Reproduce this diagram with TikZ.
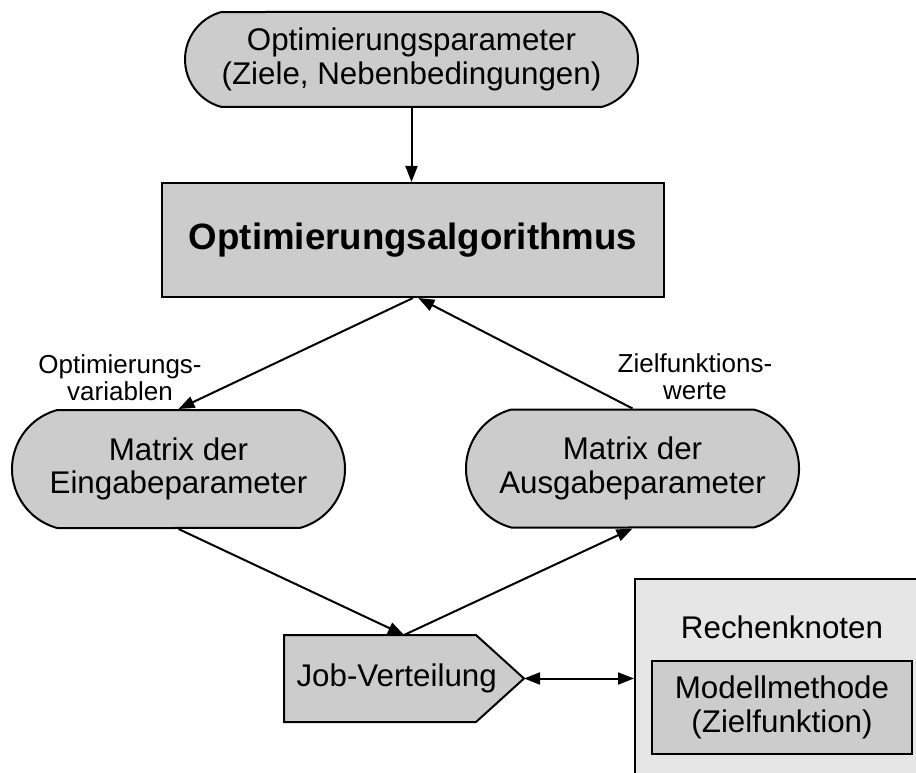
\documentclass[tikz,border=0pt]{standalone}
\usepackage{fontspec}
\setmainfont{Liberation Sans}
\usetikzlibrary{arrows.meta,shapes.misc}
\definecolor{boxgrey}{HTML}{CCCCCC}
\definecolor{nodegrey}{HTML}{E6E6E6}

\begin{document}
\begin{tikzpicture}[x=.75pt,y=-.75pt,line width=1.5pt,
  >={Triangle[length=12pt,width=9pt]},
  every node/.style={font=\fontsize{23.5}{25}\selectfont,align=center,inner sep=0pt},
  stadium/.style={rounded rectangle,rounded rectangle arc length=150,draw,fill=boxgrey},
  box/.style={rectangle,draw,fill=boxgrey},
  edgelabel/.style={font=\fontsize{19.5}{20}\selectfont}]
  \clip (0,0) rectangle (916,773);

  % optimiser and its inputs
  \node[stadium,minimum width=339.75pt,minimum height=71.25pt] (param) at (411.5,59.5)
    {Optimierungsparameter\\(Ziele, Nebenbedingungen)};
  \node[box,minimum width=376.5pt,minimum height=85.5pt,
    font=\bfseries\fontsize{27.5}{30}\selectfont] (algo) at (413,240)
    {Optimierungsalgorithmus};

  % parameter matrices
  \node[stadium,minimum width=249.75pt,minimum height=88.5pt] (eingabe) at (178.5,469)
    {Matrix der\\Eingabeparameter};
  \node[stadium,minimum width=249.75pt,minimum height=88.5pt] (ausgabe) at (632.5,468.5)
    {Matrix der\\Ausgabeparameter};
  \node[edgelabel] (varlabel) at (120,378) {Optimierungs-\\variablen};
  \node[edgelabel] (wertlabel) at (695,377) {Zielfunktions-\\werte};

  % job distribution: pentagon drawn around the node
  \node[minimum width=178.5pt,minimum height=63.75pt] (job) at (404,678.5) {};
  \fill[boxgrey] (job.north west) -- ([xshift=-36pt]job.north east) -- (job.east)
    -- ([xshift=-36pt]job.south east) -- (job.south west) -- cycle;
  \draw (job.north west) -- ([xshift=-36pt]job.north east) -- (job.east)
    -- ([xshift=-36pt]job.south east) -- (job.south west) -- cycle;
  \node (jobtext) at ([xshift=-5.5pt]job.center) {Job-Verteilung};

  % compute node
  \node[rectangle,draw,fill=nodegrey,minimum width=236.25pt,minimum height=165.75pt]
    (rechner) at (792.5,689.5) {};
  \node (rechnertitel) at (782,627) {Rechenknoten};
  \node[box,minimum width=195pt,minimum height=69.75pt] (modell) at (782,707.5)
    {Modellmethode\\(Zielfunktion)};

  \draw[->] (param.south) -- (param.south |- algo.north);
  \draw[->] (algo.south) -- (eingabe.north);
  \draw[->] (ausgabe.north) -- ([xshift=4pt]algo.south);
  \draw[->] (eingabe.south) -- (job.north);
  \draw[->] (job.north) -- (ausgabe.south);
  \draw[<->] (job.east) -- (job.east -| rechner.west);
\end{tikzpicture}
\end{document}
